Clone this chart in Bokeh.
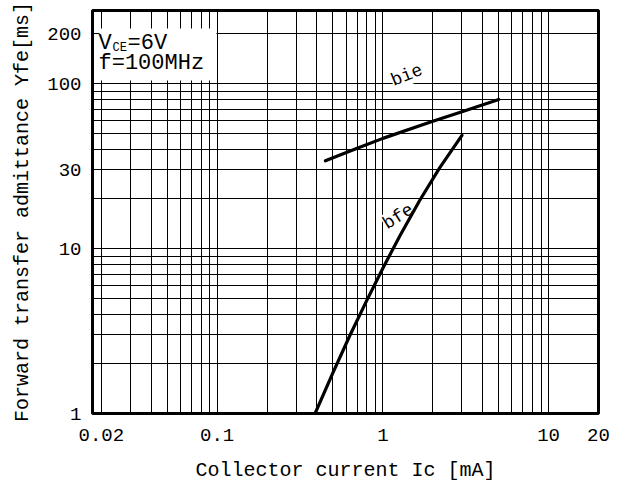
import math
from bokeh.plotting import figure
from bokeh.models import Range1d, FixedTicker, CustomJSTickFormatter, Label, BoxAnnotation
from bokeh.embed import file_html
from bokeh.resources import INLINE

# ---- data ----
bie_ic = [0.45, 0.7, 1.0, 2.0, 3.0, 5.0]
bie_y = [34.0, 40.5, 46.5, 59.0, 67.5, 80.0]
bfe_ic = [0.39, 0.5, 0.63, 0.8, 1.0, 1.27, 1.67, 2.2, 3.0]
bfe_y = [1.0, 1.77, 2.95, 4.85, 7.6, 12.0, 19.6, 30.8, 48.5]

x_tick_values = [0.02, 0.1, 1, 10, 20]
y_tick_values = [1, 10, 30, 100, 200]
x_title = "Collector current Ic [mA]"
y_title = "Forward transfer admittance Yfe[ms]"
cond_v = "V"
cond_v_sub = "CE"
cond_v_rest = "=6V"
cond_f = "f=100MHz"
curve_names = ["bie", "bfe"]

# ---- grid positions (1..9 per decade) ----
X_MIN, X_MAX = 0.0177, 20
Y_MIN, Y_MAX = 1, 277
x_grid = [m * 10.0 ** e for e in (-2, -1, 0) for m in range(1, 10)]
x_grid = [round(v, 6) for v in x_grid if v >= 0.02] + [10]
y_grid = [m * 10.0 ** e for e in (0, 1) for m in range(1, 10)] + [100, 200]

FONT = "Liberation Mono"

p = figure(width=623, height=488, x_axis_type="log", y_axis_type="log",
           x_range=Range1d(X_MIN, X_MAX), y_range=Range1d(Y_MIN, Y_MAX),
           output_backend="svg", toolbar_location=None,
           min_border_left=92, min_border_right=25, min_border_top=10, min_border_bottom=75)
p.background_fill_color = "white"
p.border_fill_color = "white"
p.outline_line_color = "black"
p.outline_line_width = 3

for ax in (p.xaxis[0], p.yaxis[0]):
    ax.axis_line_color = None
    ax.major_tick_line_color = None
    ax.minor_tick_line_color = None
    ax.major_tick_in = 0
    ax.major_tick_out = 0
    ax.minor_tick_in = 0
    ax.minor_tick_out = 0
    ax.major_label_text_font = FONT
    ax.major_label_text_font_size = "19px"
    ax.major_label_text_color = "black"
    ax.formatter = CustomJSTickFormatter(code="return String(tick);")
    ax.axis_label_text_font = FONT
    ax.axis_label_text_font_size = "20px"
    ax.axis_label_text_font_style = "normal"
    ax.axis_label_text_color = "black"

p.xaxis.ticker = FixedTicker(ticks=x_tick_values, minor_ticks=[])
p.yaxis.ticker = FixedTicker(ticks=y_tick_values, minor_ticks=[])
p.xaxis.major_label_standoff = 15
p.yaxis.major_label_standoff = 11
p.xaxis.axis_label = x_title
p.yaxis.axis_label = y_title
p.xaxis.axis_label_standoff = 15
p.yaxis.axis_label_standoff = 10

p.xgrid.ticker = FixedTicker(ticks=x_grid, minor_ticks=[])
p.ygrid.ticker = FixedTicker(ticks=y_grid, minor_ticks=[])
for g in (p.xgrid[0], p.ygrid[0]):
    g.grid_line_color = "black"
    g.grid_line_width = 1
    g.grid_line_alpha = 1

# curves
p.line(bie_ic, bie_y, line_width=3.2, line_color="black", line_cap="round", line_join="round")
p.line(bfe_ic, bfe_y, line_width=3.2, line_color="black", line_cap="round", line_join="round")

# condition box (white background over the grid)
p.add_layout(BoxAnnotation(left=7, right=124, bottom=333, top=385,
                           left_units="screen", right_units="screen",
                           bottom_units="screen", top_units="screen",
                           fill_color="white", fill_alpha=1, line_color=None))

def lab(text, x, y, size, units="screen", **kw):
    p.add_layout(Label(text=text, x=x, y=y, x_units=units, y_units=units,
                       text_font=FONT, text_font_size=size, text_color="black",
                       text_baseline=kw.pop("baseline", "middle"),
                       text_align=kw.pop("align", "left"), **kw))

lab(cond_v, 6, 370, "22px")
lab(cond_v_sub, 20, 366, "12px")
lab(cond_v_rest, 35, 370, "22px")
lab(cond_f, 6, 350, "22px")

# curve labels (under the curves, over the grid)
lab(curve_names[0], 1.395, 112, "18px", units="data", align="center",
    angle=math.radians(22), background_fill_color="white", level="underlay")
lab(curve_names[1], 1.24, 15.6, "18px", units="data", align="center",
    angle=math.radians(32), background_fill_color="white", level="underlay")

open("out.html", "w").write(file_html(p, INLINE))
